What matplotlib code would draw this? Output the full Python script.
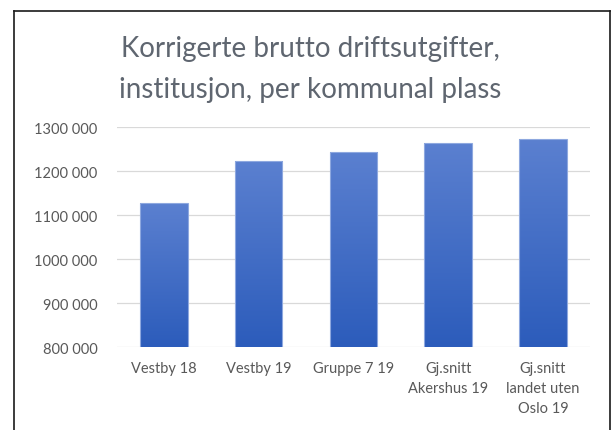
import matplotlib
matplotlib.use("Agg")
import matplotlib.pyplot as plt
import numpy as np
from matplotlib.colors import LinearSegmentedColormap
from matplotlib.lines import Line2D

# data
categories = ["Vestby 18", "Vestby 19", "Gruppe 7 19",
              "Gj.snitt\nAkershus 19", "Gj.snitt\nlandet uten\nOslo 19"]
values = [1127000, 1224000, 1244000, 1264000, 1273000]
yticks = [800000, 900000, 1000000, 1100000, 1200000, 1300000]
ytick_labels = ["800 000", "900 000", "1000 000", "1100 000", "1200 000", "1300 000"]

title = "Korrigerte brutto driftsutgifter,\ninstitusjon, per kommunal plass"
text_col = "#595959"

plt.rcParams['font.family'] = ['Lato', 'DejaVu Sans']

fig = plt.figure(figsize=(6.12, 4.31), dpi=100)
ax = fig.add_axes([0.1907, 0.1919, 0.7737, 0.5104])

x = np.arange(len(categories))
bars = ax.bar(x, values, width=0.5, color="none", edgecolor="#8ea8df", linewidth=0.8, zorder=3)

# vertical gradient inside each bar
cmap = LinearSegmentedColormap.from_list("bg", ["#2c5cbb", "#5b80d0"])
grad = np.linspace(0, 1, 256).reshape(-1, 1)
for b in bars:
    x0, w = b.get_x(), b.get_width()
    y0, h = 800000, b.get_height() + b.get_y() - 800000
    im = ax.imshow(grad, cmap=cmap, origin="lower", aspect="auto",
                   extent=[x0, x0 + w, y0, y0 + h], zorder=2)
    im.set_clip_path(b)

ax.set_xlim(-0.5, len(categories) - 0.5)
ax.set_ylim(800000, 1300000)
ax.set_yticks(yticks)
ax.set_yticklabels(ytick_labels)
ax.set_xticks(x)
ax.set_xticklabels(categories, linespacing=1.55)
ax.tick_params(axis="both", length=0, labelsize=10.5, colors=text_col)
ax.tick_params(axis="y", pad=14)
ax.tick_params(axis="x", pad=10)
ax.grid(axis="y", color="#d9d9d9", linewidth=0.9, zorder=0)
ax.set_axisbelow(True)
for s in ax.spines.values():
    s.set_visible(False)

fig.text(0.507, 0.838, title, ha="center", va="center", fontsize=20,
         color="#5f6670", linespacing=1.7)

# chart border (bottom edge is cut off in the reference)
bx0, bx1, by = 13.5 / 612, 610 / 612, 1 - 12 / 431
for xs, ys in [([bx0, bx0], [0, by]), ([bx0, bx1], [by, by]), ([bx1, bx1], [by, 0])]:
    fig.add_artist(Line2D(xs, ys, color="#1a1a1a", linewidth=1.2))

fig.savefig("out.png", dpi=100)
